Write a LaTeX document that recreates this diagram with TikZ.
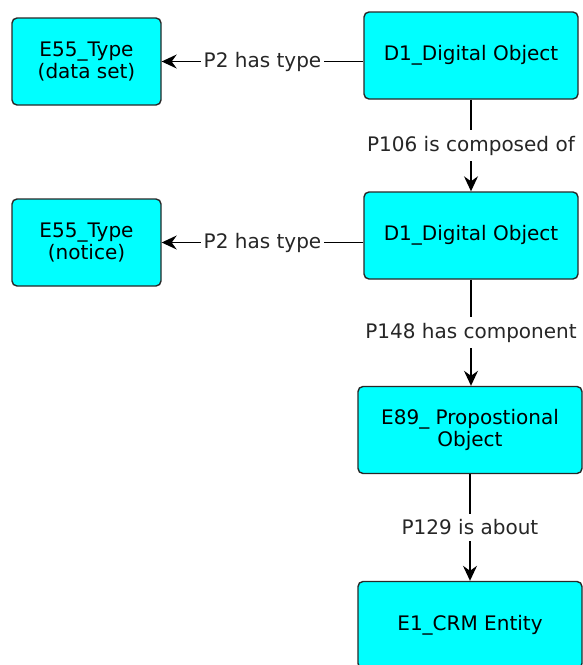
\documentclass[tikz,border=0pt]{standalone}
\usepackage{fontspec}
\setmainfont{DejaVu Sans}
\usetikzlibrary{arrows.meta,positioning}

\definecolor{boxcyan}{RGB}{0,255,255}
\definecolor{boxline}{RGB}{40,40,40}

\tikzset{
  entity/.style={draw=boxline,fill=boxcyan,rounded corners=5pt,line width=1.4pt,
    align=center,inner sep=0pt,minimum height=87pt,
    font=\fontsize{20}{22}\selectfont},
  prop/.style={fill=white,inner xsep=3pt,inner ysep=6pt,text=black!85,
    font=\fontsize{20}{22}\selectfont}
}

\begin{document}
\begin{tikzpicture}[>={Stealth[length=15pt,width=14pt,inset=5pt]},line width=1.3pt,node distance=180pt]

\useasboundingbox (0,0) rectangle (583pt,-665pt);

\node[entity,minimum width=214pt] (d1a) at (471pt,-55.5pt) {D1\_Digital Object};
 \node[entity,minimum width=214pt] (d1b) [below of=d1a] {D1\_Digital Object};
	\node[entity,minimum width=224pt] (e89) [below of=d1b,node distance=194.5pt,xshift=-1pt] {E89\_ Propostional\\Object};
	\node[entity,minimum width=224pt] (e1) [below of=e89,node distance=195pt] {E1\_CRM Entity};
	\node[entity,minimum width=149pt] (e55a) [left of=d1a,node distance=384.5pt,yshift=-6pt] {E55\_Type\\(data set)};
	\node[entity,minimum width=149pt] (e55b) [left of=d1b,node distance=384.5pt,yshift=-7pt] {E55\_Type\\(notice)};


	\path[->] (d1a.west |- e55a) edge node[prop]{P2 has type} (e55a)
        (d1a) edge node[prop]{P106 is composed of} (d1b)
        (d1b.west |- e55b) edge node[prop]{P2 has type} (e55b)
					(d1b) edge node[prop]{P148 has component} (e89.north -| d1b)
					(e89) edge node[prop]{P129 is about} (e1);

\end{tikzpicture}
\end{document}
